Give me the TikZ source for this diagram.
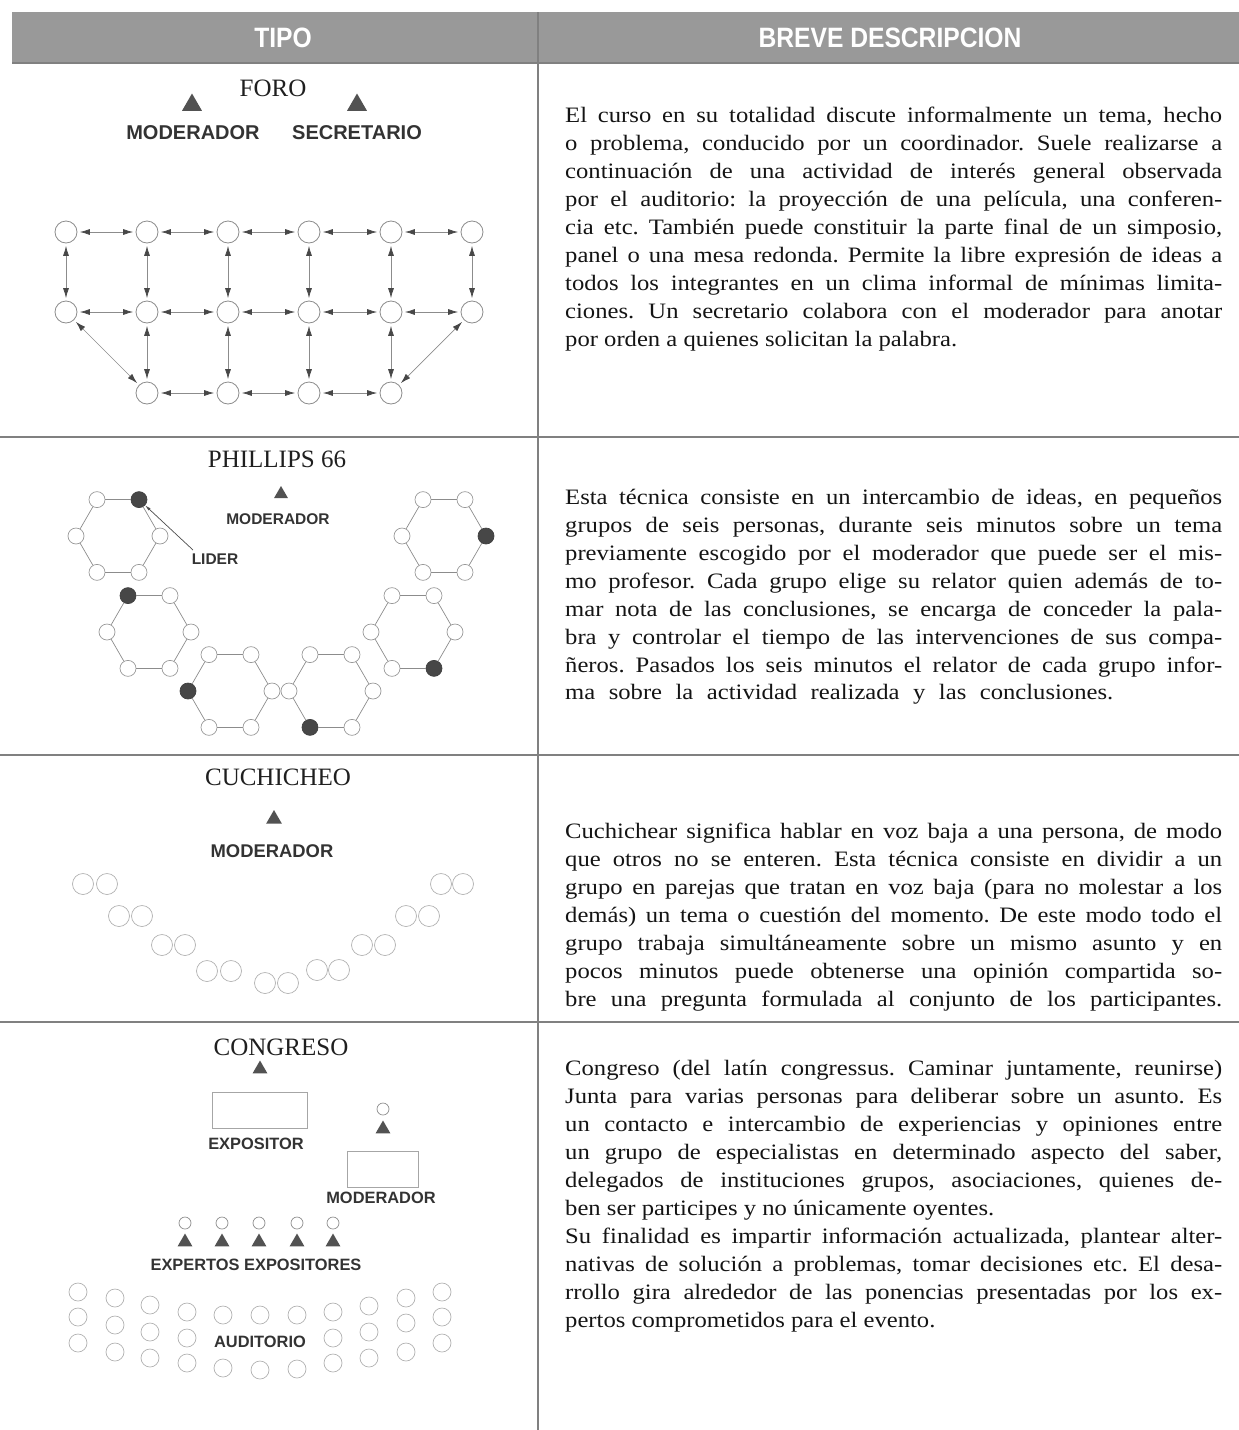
\documentclass[tikz,border=0pt]{standalone}
\usepackage{fontspec}
\setmainfont{Liberation Serif}
\newfontfamily\descfont{Liberation Serif}[FakeStretch=1.12]
\newfontfamily\lblfont{Liberation Sans}
\newfontfamily\hdrfont{Liberation Sans}[FakeStretch=0.88]
\usetikzlibrary{arrows.meta,shapes.geometric}
\newcommand\JL[1]{\makebox[657pt][s]{#1}}
\frenchspacing
\begin{document}
\begin{tikzpicture}[x=1pt,y=-1pt,
  rule/.style={draw=black!50,line width=1.2pt},
  hdrtxt/.style={font=\hdrfont\bfseries\fontsize{28}{30}\selectfont,text=white,inner sep=0},
  ttl/.style={font=\fontsize{25}{30}\selectfont,text=black!88,inner sep=0},
  lbl/.style={font=\lblfont\bfseries\fontsize{#1}{#1}\selectfont,text=black!80,inner sep=0},
  desc/.style={font=\descfont\fontsize{22}{28}\selectfont\frenchspacing,anchor=base west,inner sep=0,text=black!92},
  tri/.style={regular polygon,regular polygon sides=3,fill=black!68,inner sep=0,minimum size=#1},
  fc/.style={circle,draw=black!45,line width=0.8pt,fill=white,minimum size=22pt,inner sep=0},
  bi/.style={{Latex[length=10pt,width=6pt,color=black!72]}-{Latex[length=10pt,width=6pt,color=black!72]},draw=black!45,line width=0.7pt,shorten <=2.5pt,shorten >=2.5pt},
  pc/.style={circle,draw=black!40,line width=0.7pt,fill=white,minimum size=16pt,inner sep=0},
  lead/.style={circle,draw=black!75,line width=0.7pt,fill=black!72,minimum size=16pt,inner sep=0},
  hexe/.style={draw=black!45,line width=0.7pt},
  cc/.style={circle,draw=black!30,line width=0.7pt,fill=white,minimum size=#1,inner sep=0},
  bx/.style={rectangle,draw=black!35,line width=0.8pt,fill=white,inner sep=0}
]
\useasboundingbox (0,0) rectangle (1239,1430);
% ---------- table frame ----------
\fill[black!40] (12,12) rectangle (1239,63);
\node[hdrtxt] (htipo) at (283,38) {TIPO};
\node[hdrtxt] (hdesc) at (890,38) {BREVE DESCRIPCION};
\draw[rule] (12,63) -- (1239,63);
\draw[rule] (0,437) -- (1239,437);
\draw[rule] (0,755) -- (1239,755);
\draw[rule] (0,1022) -- (1239,1022);
\draw[rule] (538,12) -- (538,1430);

% ---------- FORO ----------
\node[ttl] (tforo) at (273,88) {FORO};
\node[tri=23pt] (fmod) at (192,105) {};
\node[tri=23pt] (fsec) at (357,105) {};
\node[lbl=20] (lfmod) at (193,133) {MODERADOR};
\node[lbl=20] (lfsec) at (357,133) {SECRETARIO};
\foreach \c/\x in {1/66,2/147,3/228,4/309,5/391,6/472}{
  \node[fc] (a\c) at (\x,232) {};
  \node[fc] (b\c) at (\x,312) {};
}
\foreach \c/\x in {2/147,3/228,4/309,5/391}{
  \node[fc] (c\c) at (\x,393) {};
}
\foreach \i/\j in {1/2,2/3,3/4,4/5,5/6}{
  \draw[bi] (a\i) -- (a\j);
  \draw[bi] (b\i) -- (b\j);
}
\foreach \i/\j in {2/3,3/4,4/5}{\draw[bi] (c\i) -- (c\j);}
\foreach \i in {1,...,6}{\draw[bi] (a\i) -- (b\i);}
\foreach \i in {2,...,5}{\draw[bi] (b\i) -- (c\i);}
\draw[bi] (b1) -- (c2);
\draw[bi] (b6) -- (c5);

\node[desc] (f1) at (565,122) {\JL{El curso en su totalidad discute informalmente un tema, hecho}};
\node[desc] (f2) at (565,150) {\JL{o problema, conducido por un coordinador. Suele realizarse a}};
\node[desc] (f3) at (565,178) {\JL{continuación de una actividad de interés general observada}};
\node[desc] (f4) at (565,206) {\JL{por el auditorio: la proyección de una película, una conferen-}};
\node[desc] (f5) at (565,234) {\JL{cia etc. También puede constituir la parte final de un simposio,}};
\node[desc] (f6) at (565,262) {\JL{panel o una mesa redonda. Permite la libre expresión de ideas a}};
\node[desc] (f7) at (565,290) {\JL{todos los integrantes en un clima informal de mínimas limita-}};
\node[desc] (f8) at (565,318) {\JL{ciones. Un secretario colabora con el moderador para anotar}};
\node[desc] (f9) at (565,346) {por orden a quienes solicitan la palabra.};

% ---------- PHILLIPS 66 ----------
\node[ttl] (tphil) at (277,459) {PHILLIPS 66};
\node[tri=16pt] (pmod) at (281,494) {};
\node[lbl=15.5] (lpmod) at (278,519) {MODERADOR};
\node[lbl=15.5] (llid) at (215,559) {LIDER};
\foreach \h/\cx/\cy/\f in {1/118/536/300,2/444/536/0,3/149/632/240,4/413/632/60,5/230/691/180,6/331/691/120}{
  \foreach \a in {0,60,...,300}{
    \ifnum\a=\f\relax\def\st{lead}\else\def\st{pc}\fi
    \node[\st] (h\h-\a) at ({\cx+42*cos(\a)},{\cy+42*sin(\a)}) {};
  }
  \foreach \a/\b in {0/60,60/120,120/180,180/240,240/300,300/0}{
    \draw[hexe] (h\h-\a) -- (h\h-\b);
  }
}
\coordinate (lidend) at (193,550);
\draw[-{Latex[length=6pt,width=3pt]},draw=black!70,line width=0.7pt] (lidend) -- (h1-300);

\node[desc] (p1) at (565,504) {\JL{Esta técnica consiste en un intercambio de ideas, en pequeños}};
\node[desc] (p2) at (565,532) {\JL{grupos de seis personas, durante seis minutos sobre un tema}};
\node[desc] (p3) at (565,560) {\JL{previamente escogido por el moderador que puede ser el mis-}};
\node[desc] (p4) at (565,588) {\JL{mo profesor. Cada grupo elige su relator quien además de to-}};
\node[desc] (p5) at (565,616) {\JL{mar nota de las conclusiones, se encarga de conceder la pala-}};
\node[desc] (p6) at (565,644) {\JL{bra y controlar el tiempo de las intervenciones de sus compa-}};
\node[desc] (p7) at (565,672) {\JL{ñeros. Pasados los seis minutos el relator de cada grupo infor-}};
\node[desc] (p8) at (565,699) {\makebox[548pt][s]{ma sobre la actividad realizada y las conclusiones.}};

% ---------- CUCHICHEO ----------
\node[ttl] (tcuch) at (278,777) {CUCHICHEO};
\node[tri=18pt] (cmod) at (274,819) {};
\node[lbl=18.4] (lcmod) at (272,851) {MODERADOR};
\foreach \k/\xl/\xr/\y in {1/83/107/884,2/119/142/916,3/162/185/945,4/207/231/971,5/265/288/983,6/317/339/970,7/362/385/945,8/406/429/916,9/441/463/884}{
  \node[cc=21pt] (q\k l) at (\xl,\y) {};
  \node[cc=21pt] (q\k r) at (\xr,\y) {};
}
\node[desc] (k1) at (565,838) {\JL{Cuchichear significa hablar en voz baja a una persona, de modo}};
\node[desc] (k2) at (565,866) {\JL{que otros no se enteren. Esta técnica consiste en dividir a un}};
\node[desc] (k3) at (565,894) {\JL{grupo en parejas que tratan en voz baja (para no molestar a los}};
\node[desc] (k4) at (565,922) {\JL{demás) un tema o cuestión del momento. De este modo todo el}};
\node[desc] (k5) at (565,950) {\JL{grupo trabaja simultáneamente sobre un mismo asunto y en}};
\node[desc] (k6) at (565,978) {\JL{pocos minutos puede obtenerse una opinión compartida so-}};
\node[desc] (k7) at (565,1006) {\JL{bre una pregunta formulada al conjunto de los participantes.}};

% ---------- CONGRESO ----------
\node[ttl] (tcong) at (281,1047) {CONGRESO};
\node[tri=17pt] (gexp) at (260,1069) {};
\node[bx,minimum width=95pt,minimum height=36pt] (gbox1) at (259.5,1110) {};
\node[lbl=16.4] (lgexp) at (256,1144) {EXPOSITOR};
\node[cc=12pt,draw=black!45] (gmodh) at (383,1109) {};
\node[tri=17pt] (gmod) at (383,1129) {};
\node[bx,minimum width=71pt,minimum height=36pt] (gbox2) at (382.5,1169) {};
\node[lbl=16.4] (lgmod) at (381,1198) {MODERADOR};
\foreach \k/\x in {1/185,2/222,3/259,4/297,5/333}{
  \node[cc=12pt,draw=black!45] (eh\k) at (\x,1223) {};
  \node[tri=17pt] (et\k) at (\x,1242) {};
}
\node[lbl=16.4] (lgexx) at (256,1265) {EXPERTOS EXPOSITORES};
\node[lbl=16.4] (lgaud) at (260,1342) {AUDITORIO};
\foreach \k/\x/\ya/\yb/\yc in {1/78/1292/1317/1343,2/115/1298/1325/1352,3/150/1305/1332/1358,4/187/1312/1338/1363,8/333/1312/1338/1363,9/369/1306/1332/1358,10/406/1298/1323/1352,11/442/1292/1317/1343}{
  \node[cc=18pt] (u\k a) at (\x,\ya) {};
  \node[cc=18pt] (u\k b) at (\x,\yb) {};
  \node[cc=18pt] (u\k c) at (\x,\yc) {};
}
\foreach \k/\x/\ya/\yc in {5/223/1315/1368,6/260/1315/1370,7/297/1315/1369}{
  \node[cc=18pt] (u\k a) at (\x,\ya) {};
  \node[cc=18pt] (u\k c) at (\x,\yc) {};
}
\node[desc] (g1) at (565,1075) {\JL{Congreso (del latín congressus. Caminar juntamente, reunirse)}};
\node[desc] (g2) at (565,1103) {\JL{Junta para varias personas para deliberar sobre un asunto. Es}};
\node[desc] (g3) at (565,1131) {\JL{un contacto e intercambio de experiencias y opiniones entre}};
\node[desc] (g4) at (565,1159) {\JL{un grupo de especialistas en determinado aspecto del saber,}};
\node[desc] (g5) at (565,1187) {\JL{delegados de instituciones grupos, asociaciones, quienes de-}};
\node[desc] (g6) at (565,1215) {ben ser participes y no únicamente oyentes.};
\node[desc] (g7) at (565,1243) {\JL{Su finalidad es impartir información actualizada, plantear alter-}};
\node[desc] (g8) at (565,1271) {\JL{nativas de solución a problemas, tomar decisiones etc. El desa-}};
\node[desc] (g9) at (565,1299) {\JL{rrollo gira alrededor de las ponencias presentadas por los ex-}};
\node[desc] (g10) at (565,1327) {pertos comprometidos para el evento.};
\end{tikzpicture}
\end{document}
